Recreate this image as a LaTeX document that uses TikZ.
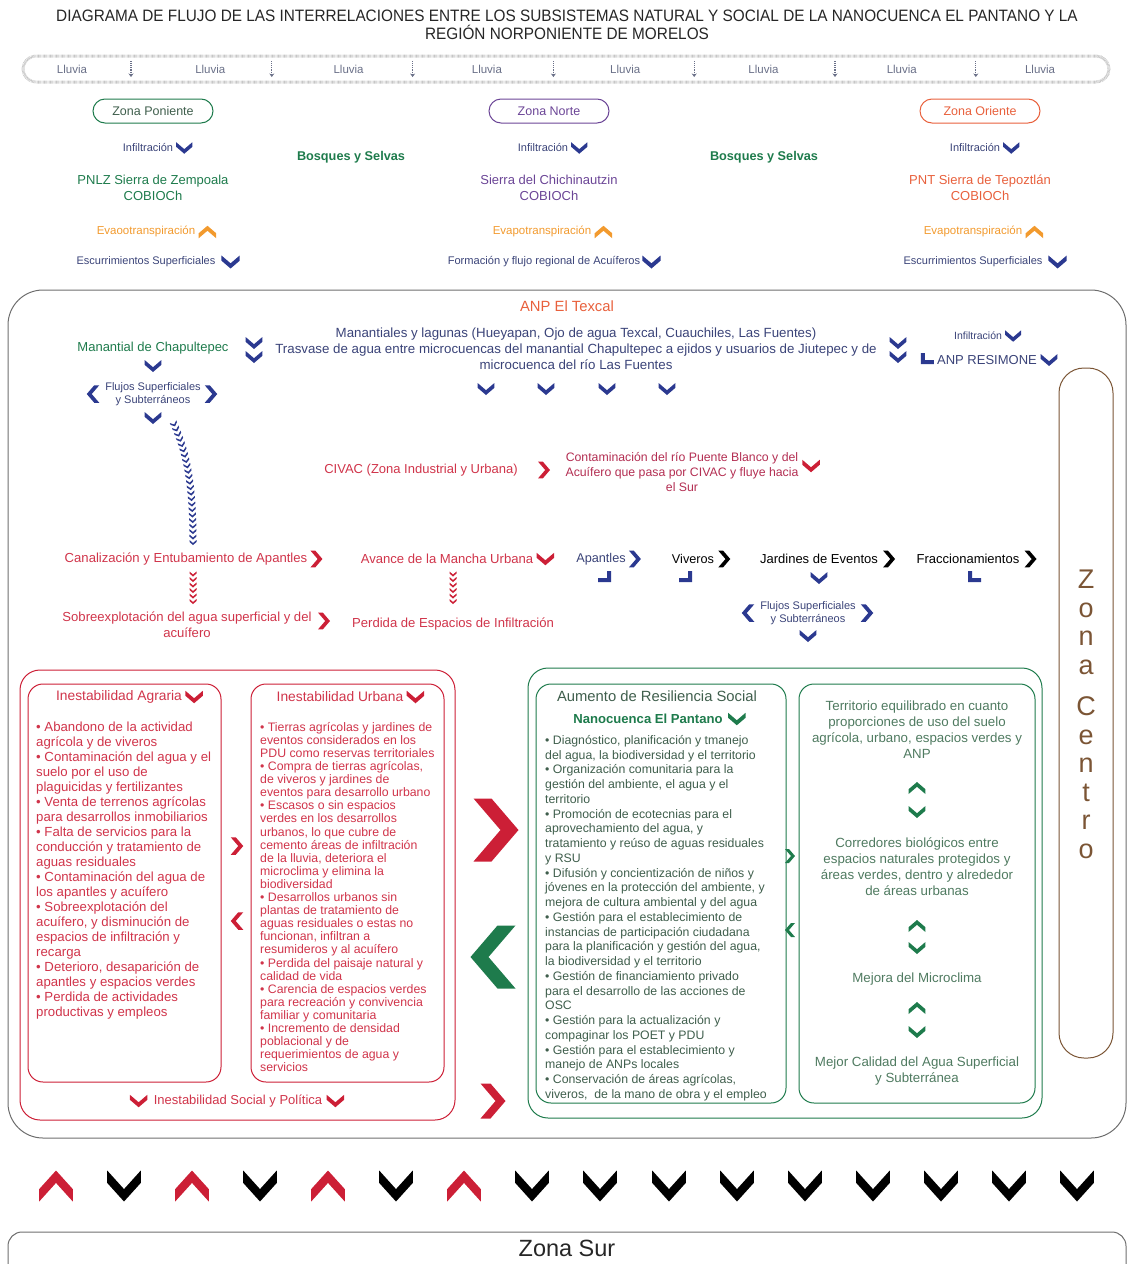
\documentclass[tikz,border=0pt]{standalone}
\usepackage{fontspec}
\setmainfont{Liberation Sans}
\newfontfamily\condfont{Liberation Sans}[FakeStretch=0.93]
\usetikzlibrary{positioning,arrows.meta,decorations.markings}

\newcommand{\tam}[2]{\fontsize{#1}{#2}\selectfont}

\definecolor{navy}{HTML}{2B3990}
\definecolor{navytxt}{HTML}{3A4378}
\definecolor{bosque}{HTML}{1E7B4C}
\definecolor{verdetxt}{HTML}{3F5E4C}
\definecolor{verdeclaro}{HTML}{4F7A60}
\definecolor{morado}{HTML}{6B4596}
\definecolor{naranja}{HTML}{F29A2E}
\definecolor{coral}{HTML}{E8603C}
\definecolor{rojo}{HTML}{CC1F36}
\definecolor{rojotxt}{HTML}{D0344A}
\definecolor{guinda}{HTML}{B32E52}
\definecolor{cafe}{HTML}{7B5535}
\definecolor{gris}{HTML}{6E6E6E}
\definecolor{grislluvia}{HTML}{6A7088}

\tikzset{
  chevd/.pic={\fill (-7,-5) -- (0,1) -- (7,-5) -- (7,-1) -- (0,5) -- (-7,-1) -- cycle;},
  chevu/.pic={\fill (-7,5) -- (0,-1) -- (7,5) -- (7,1) -- (0,-5) -- (-7,1) -- cycle;},
  chevr/.pic={\fill (-5,-7) -- (1,0) -- (-5,7) -- (-1,7) -- (5,0) -- (-1,-7) -- cycle;},
  chevl/.pic={\fill (5,-7) -- (-1,0) -- (5,7) -- (1,7) -- (-5,0) -- (1,-7) -- cycle;},
  esqder/.pic={\fill (-8,-1) -- (1,-1) -- (1,-8) -- (5,-8) -- (5,3) -- (-8,3) -- cycle;},
  esqizq/.pic={\fill (8,-1) -- (-1,-1) -- (-1,-8) -- (-5,-8) -- (-5,3) -- (8,3) -- cycle;},
  t/.style={inner sep=0pt, align=center},
  lista/.style={inner sep=0pt, align=left, anchor=north west},
  zona/.style={draw, line width=1pt, rounded corners=12pt, minimum width=120pt, minimum height=24pt, inner sep=0pt, font=\tam{12.5}{14}},
  caja/.style={draw, line width=1pt, inner sep=0pt},
  cadena/.style={postaction={decorate}, decoration={markings, mark=between positions 0 and 1 step 5.5pt with {\fill (-2.5,-3.5) -- (0.5,0) -- (-2.5,3.5) -- (-0.5,3.5) -- (2.5,0) -- (-0.5,-3.5) -- cycle;}}},
}

\begin{document}
\begin{tikzpicture}[x=1pt, y=-1pt]
\useasboundingbox (0,0) rectangle (1128,1264);

\node[t, font=\condfont\tam{16.5}{18}, text=black!85] (titulo) at (567,25) {DIAGRAMA DE FLUJO DE LAS INTERRELACIONES ENTRE LOS SUBSISTEMAS NATURAL Y SOCIAL DE LA NANOCUENCA EL PANTANO Y LA\\REGIÓN NORPONIENTE DE MORELOS};

\node[draw=gray!45, line width=3pt, dash pattern=on 0.6pt off 0.6pt, rounded corners=13pt, minimum width=1086pt, minimum height=26pt] (lluvia) at (566,69) {};
\foreach \i in {0,...,7}
  \node[t, font=\tam{11.5}{13}, text=grislluvia] (ll\i) at ({72+138.3*\i},69) {Lluvia};
\foreach \i in {0,...,6}
  \draw[grislluvia, densely dotted, line width=1.1pt, -{Stealth[length=3.5pt,width=5pt]}] ({131+140.8*\i},61) -- ({131+140.8*\i},77);

\node[zona, draw=bosque, text=verdetxt] (zponiente) at (153,111) {Zona Poniente};
\node[zona, draw=morado, text=morado] (znorte) at (549,111) {Zona Norte};
\node[zona, draw=coral, text=coral] (zoriente) at (980,111) {Zona Oriente};

\node[t, font=\tam{11}{13}, text=navytxt] (infpon) at (148,148) {Infiltración};
\pic[navy, scale=1.15] at ([xshift=11pt]infpon.east) {chevd};
\node[t, font=\tam{13}{15.5}, text=bosque] (zempoala) at (153,188) {PNLZ Sierra de Zempoala\\COBIOCh};
\node[t, font=\tam{11.5}{13}, text=naranja] (evpon) at (146,231) {Evaootranspiración};
\pic[naranja, scale=1.25] at ([xshift=12pt,yshift=-1pt]evpon.east) {chevu};
\node[t, font=\tam{11}{13}, text=navytxt] (escpon) at (146,262) {Escurrimientos Superficiales};
\pic[navy, scale=1.3] at ([xshift=15pt]escpon.east) {chevd};

\node[t, font=\bfseries\tam{12.7}{15}, text=bosque] (bosques1) at (351,157) {Bosques y Selvas};
\node[t, font=\bfseries\tam{12.7}{15}, text=bosque] (bosques2) at (764,157) {Bosques y Selvas};

\node[t, font=\tam{11}{13}, text=navytxt] (infnor) at (543,148) {Infiltración};
\pic[navy, scale=1.15] at ([xshift=11pt]infnor.east) {chevd};
\node[t, font=\tam{13}{15.5}, text=morado] (chichi) at (549,188) {Sierra del Chichinautzin\\COBIOCh};
\node[t, font=\tam{11.5}{13}, text=naranja] (evnor) at (542,231) {Evapotranspiración};
\pic[naranja, scale=1.25] at ([xshift=12pt,yshift=-1pt]evnor.east) {chevu};
\node[t, font=\tam{11.1}{13}, text=navytxt] (acuiferos) at (544,262) {Formación y flujo regional de Acuíferos};
\pic[navy, scale=1.3] at ([xshift=11pt]acuiferos.east) {chevd};

\node[t, font=\tam{11}{13}, text=navytxt] (infori) at (975,148) {Infiltración};
\pic[navy, scale=1.15] at ([xshift=11pt]infori.east) {chevd};
\node[t, font=\tam{13}{15.5}, text=coral] (tepoztlan) at (980,188) {PNT Sierra de Tepoztlán\\COBIOCh};
\node[t, font=\tam{11.5}{13}, text=naranja] (evori) at (973,231) {Evapotranspiración};
\pic[naranja, scale=1.25] at ([xshift=12pt,yshift=-1pt]evori.east) {chevu};
\node[t, font=\tam{11}{13}, text=navytxt] (escori) at (973,262) {Escurrimientos Superficiales};
\pic[navy, scale=1.3] at ([xshift=15pt]escori.east) {chevd};

\node[caja, draw=gris, rounded corners=35pt, minimum width=1118pt, minimum height=848pt] (centro) at (567,714) {};
\node[t, font=\tam{14.8}{17}, text=coral] (texcal) at (567,306) {ANP El Texcal};

\node[t, font=\tam{13}{15}, text=bosque] (chapultepec) at (153,348) {Manantial de Chapultepec};
\pic[navy, scale=1.2] at (254,343) {chevd};
\pic[navy, scale=1.2] at (254,357) {chevd};
\node[t, font=\tam{13.3}{16}, text=navytxt] (manantiales) at (576,349) {Manantiales y lagunas (Hueyapan, Ojo de agua Texcal, Cuauchiles, Las Fuentes)\\Trasvase de agua entre microcuencas del manantial Chapultepec a ejidos y usuarios de Jiutepec y de\\microcuenca del río Las Fuentes};
\pic[navy, scale=1.2] at (898,343) {chevd};
\pic[navy, scale=1.2] at (898,357) {chevd};
\node[t, font=\tam{10.5}{12}, text=navytxt] (infanp) at (978,336) {Infiltración};
\pic[navy, scale=1.15] at ([xshift=11pt]infanp.east) {chevd};
\node[t, font=\tam{13}{14}, text=navytxt] (resimone) at (987,360) {ANP RESIMONE};
\pic[navy] at ([xshift=-11pt,yshift=-1pt]resimone.west) {esqizq};
\pic[navy, scale=1.2] at ([xshift=12pt]resimone.east) {chevd};

\pic[navy, scale=1.2] at (153,366) {chevd};
\node[t, font=\tam{11}{13}, text=navytxt] (flujos1) at (153,394.5) {Flujos Superficiales\\y Subterráneos};
\pic[navy, scale=1.25] at (93,394) {chevl};
\pic[navy, scale=1.25] at (211,394) {chevr};
\pic[navy, scale=1.2] at (153,418) {chevd};
\foreach \xx in {486,546,607,667}
  \pic[navy, scale=1.2] at (\xx,389) {chevd};

\coordinate (cad1) at (174,424);
\coordinate (cad2) at (193,543);
\path[cadena, navy] (cad1) .. controls (186,452) and (193,480) .. (cad2);

\node[t, font=\tam{13}{15}, text=rojotxt] (civac) at (421,470) {CIVAC (Zona Industrial y Urbana)};
\pic[rojo, scale=1.2] at (544,470) {chevr};
\node[t, font=\tam{12.3}{15}, text=guinda] (puenteblanco) at (682,472) {Contaminación del río Puente Blanco y del\\Acuífero que pasa por CIVAC y fluye hacia\\el Sur};
\pic[rojo, scale=1.25] at (811,466) {chevd};

\node[t, font=\tam{13.1}{15}, text=rojotxt] (canal) at (186,559) {Canalización y Entubamiento de Apantles};
\pic[rojo, scale=1.2] at ([xshift=9pt]canal.east) {chevr};
\node[t, font=\tam{13.1}{15}, text=rojotxt] (mancha) at (447,559) {Avance de la Mancha Urbana};
\pic[rojo, scale=1.25] at ([xshift=12pt]mancha.east) {chevd};
\node[t, font=\tam{12.7}{15}, text=navytxt] (apantles) at (601,559) {Apantles};
\pic[navy, scale=1.2] at ([xshift=9pt]apantles.east) {chevr};
\node[t, font=\tam{12.7}{15}, text=black] (viveros) at (693,559) {Viveros};
\pic[black, scale=1.2] at ([xshift=10pt]viveros.east) {chevr};
\node[t, font=\tam{13}{15}, text=black] (jardines) at (819,559) {Jardines de Eventos};
\pic[black, scale=1.2] at ([xshift=11pt]jardines.east) {chevr};
\node[t, font=\tam{13}{15}, text=black] (fracc) at (968,559) {Fraccionamientos};
\pic[black, scale=1.2] at ([xshift=11pt]fracc.east) {chevr};
\pic[navy] at (606,579) {esqder};
\pic[navy] at (687,579) {esqder};
\pic[navy, scale=1.2] at (819,578) {chevd};
\pic[navy] at (973,579) {esqizq};

\coordinate (cad3) at (193,574);
\coordinate (cad4) at (193,602);
\path[cadena, rojo] (cad3) -- (cad4);
\coordinate (cad5) at (453,574);
\coordinate (cad6) at (453,602);
\path[cadena, rojo] (cad5) -- (cad6);

\node[t, font=\tam{13.1}{16}, text=rojotxt] (sobreexp) at (187,625) {Sobreexplotación del agua superficial y del\\acuífero};
\pic[rojo, scale=1.2] at (324,621) {chevr};
\node[t, font=\tam{13.1}{15}, text=rojotxt] (perdida) at (453,624) {Perdida de Espacios de Infiltración};

\node[t, font=\tam{11}{13}, text=navytxt] (flujos2) at (808,613.5) {Flujos Superficiales\\y Subterráneos};
\pic[navy, scale=1.25] at (748,613) {chevl};
\pic[navy, scale=1.25] at (867,613) {chevr};
\pic[navy, scale=1.2] at (808,636) {chevd};

\node[caja, draw=rojo, rounded corners=20pt, minimum width=435pt, minimum height=450pt] (inestable) at (237.5,895) {};
\node[caja, draw=rojo, rounded corners=15pt, minimum width=193pt, minimum height=398pt] (agraria) at (124.5,883) {};
\node[caja, draw=rojo, rounded corners=15pt, minimum width=193pt, minimum height=398pt] (urbana) at (347.5,883) {};
\node[t, font=\tam{13.8}{15}, text=rojotxt] (tagraria) at (119,697) {Inestabilidad Agraria};
\pic[rojo, scale=1.25] at ([xshift=12pt]tagraria.east) {chevd};
\node[t, font=\tam{13.8}{15}, text=rojotxt] (turbana) at (340,697) {Inestabilidad Urbana};
\pic[rojo, scale=1.25] at ([xshift=12pt]turbana.east) {chevd};

\node[lista, font=\tam{13.2}{15}, text=rojotxt] (lagraria) at (36,722) {• Abandono de la actividad\\agrícola y de viveros\\• Contaminación del agua y el\\suelo por el uso de\\plaguicidas y fertilizantes\\• Venta de terrenos agrícolas\\para desarrollos inmobiliarios\\• Falta de servicios para la\\conducción y tratamiento de\\aguas residuales\\• Contaminación del agua de\\los apantles y acuífero\\• Sobreexplotación del\\acuífero, y disminución de\\espacios de infiltración y\\recarga\\• Deterioro, desaparición de\\apantles y espacios verdes\\• Perdida de actividades\\productivas y empleos};

\node[lista, font=\tam{12.3}{13.1}, text=rojotxt] (lurbana) at (260,722) {• Tierras agrícolas y jardines de\\eventos considerados en los\\PDU como reservas territoriales\\• Compra de tierras agrícolas,\\de viveros y jardines de\\eventos para desarrollo urbano\\• Escasos o sin espacios\\verdes en los desarrollos\\urbanos, lo que cubre de\\cemento áreas de infiltración\\de la lluvia, deteriora el\\microclima y elimina la\\biodiversidad\\• Desarrollos urbanos sin\\plantas de tratamiento de\\aguas residuales o estas no\\funcionan, infiltran a\\resumideros y al acuífero\\• Perdida del paisaje natural y\\calidad de vida\\• Carencia de espacios verdes\\para recreación y convivencia\\familiar y comunitaria\\• Incremento de densidad\\poblacional y de\\requerimientos de agua y\\servicios};

\pic[rojo, scale=1.25] at (237,846) {chevr};
\pic[rojo, scale=1.25] at (237,921) {chevl};
\node[t, font=\tam{13}{15}, text=rojotxt] (social) at (238,1101) {Inestabilidad Social y Política};
\pic[rojo, scale=1.25] at ([xshift=-15pt]social.west) {chevd};
\pic[rojo, scale=1.25] at ([xshift=13pt]social.east) {chevd};

\pic[rojo, scale=4.5] at (496,830) {chevr};
\pic[bosque, scale=4.5] at (493,957) {chevl};
\pic[rojo, scale=2.5] at (493,1101) {chevr};

\node[caja, draw=bosque, rounded corners=20pt, minimum width=514pt, minimum height=450pt] (resiliencia) at (785,893) {};
\node[caja, draw=bosque, rounded corners=15pt, minimum width=250pt, minimum height=419pt] (acciones) at (661,893.5) {};
\node[caja, draw=bosque, rounded corners=15pt, minimum width=236pt, minimum height=419pt] (logros) at (917,893.5) {};
\node[t, font=\tam{14.8}{17}, text=verdetxt] (tresil) at (657,696) {Aumento de Resiliencia Social};
\node[t, font=\bfseries\tam{13.1}{15}, text=bosque] (pantano) at (648,719) {Nanocuenca El Pantano};
\pic[bosque, scale=1.25] at ([xshift=14pt]pantano.east) {chevd};

\node[lista, font=\tam{12.3}{14.75}, text=verdetxt] (lacciones) at (545,735) {• Diagnóstico, planificación y tmanejo\\del agua, la biodiversidad y el territorio\\• Organización comunitaria para la\\gestión del ambiente, el agua y el\\territorio\\• Promoción de ecotecnias para el\\aprovechamiento del agua, y\\tratamiento y reúso de aguas residuales\\y RSU\\• Difusión y concientización de niños y\\jóvenes en la protección del ambiente, y\\mejora de cultura ambiental y del agua\\• Gestión para el establecimiento de\\instancias de participación ciudadana\\para la planificación y gestión del agua,\\la biodiversidad y el territorio\\• Gestión de financiamiento privado\\para el desarrollo de las acciones de\\OSC\\• Gestión para la actualización y\\compaginar los POET y PDU\\• Gestión para el establecimiento y\\manejo de ANPs locales\\• Conservación de áreas agrícolas,\\viveros,\ \ de la mano de obra y el empleo};

\pic[bosque, scale=1] at (790,856) {chevr};
\pic[bosque, scale=1] at (790,930) {chevl};

\node[t, font=\tam{13.3}{16}, text=verdeclaro] (territorio) at (917,730) {Territorio equilibrado en cuanto\\proporciones de uso del suelo\\agrícola, urbano, espacios verdes y\\ANP};
\pic[bosque, scale=1.2] at (917,788) {chevu};
\pic[bosque, scale=1.2] at (917,812) {chevd};
\node[t, font=\tam{13.3}{16}, text=verdeclaro] (corredores) at (917,866.5) {Corredores biológicos entre\\espacios naturales protegidos y\\áreas verdes, dentro y alrededor\\de áreas urbanas};
\pic[bosque, scale=1.2] at (917,926) {chevu};
\pic[bosque, scale=1.2] at (917,948) {chevd};
\node[t, font=\tam{13.3}{16}, text=verdeclaro] (microclima) at (917,979) {Mejora del Microclima};
\pic[bosque, scale=1.2] at (917,1008) {chevu};
\pic[bosque, scale=1.2] at (917,1032) {chevd};
\node[t, font=\tam{13.3}{16}, text=verdeclaro] (calidad) at (917,1071) {Mejor Calidad del Agua Superficial\\y Subterránea};

\node[caja, draw=cafe, rounded corners=25pt, minimum width=54pt, minimum height=690pt] (zcentro) at (1086,713) {};
\node[t, anchor=north, font=\tam{27}{28.5}, text=cafe] (zcletras) at (1086,570) {Z\\o\\n\\a\\[13pt]C\\e\\n\\t\\r\\o};

\foreach \xx in {56,192,328,464}
  \pic[rojo, xscale=2.4, yscale=3.1] at (\xx,1186) {chevu};
\foreach \xx in {124,260,396,532,600,669,737,805,873,941,1009,1077}
  \pic[black, xscale=2.4, yscale=3.1] at (\xx,1186) {chevd};

\node[caja, draw=gris, rounded corners=14pt, minimum width=1118pt, minimum height=60pt] (zsur) at (567,1262) {};
\node[t, font=\tam{23.5}{26}, text=black!85] (tsur) at (567,1248) {Zona Sur};
\end{tikzpicture}
\end{document}
